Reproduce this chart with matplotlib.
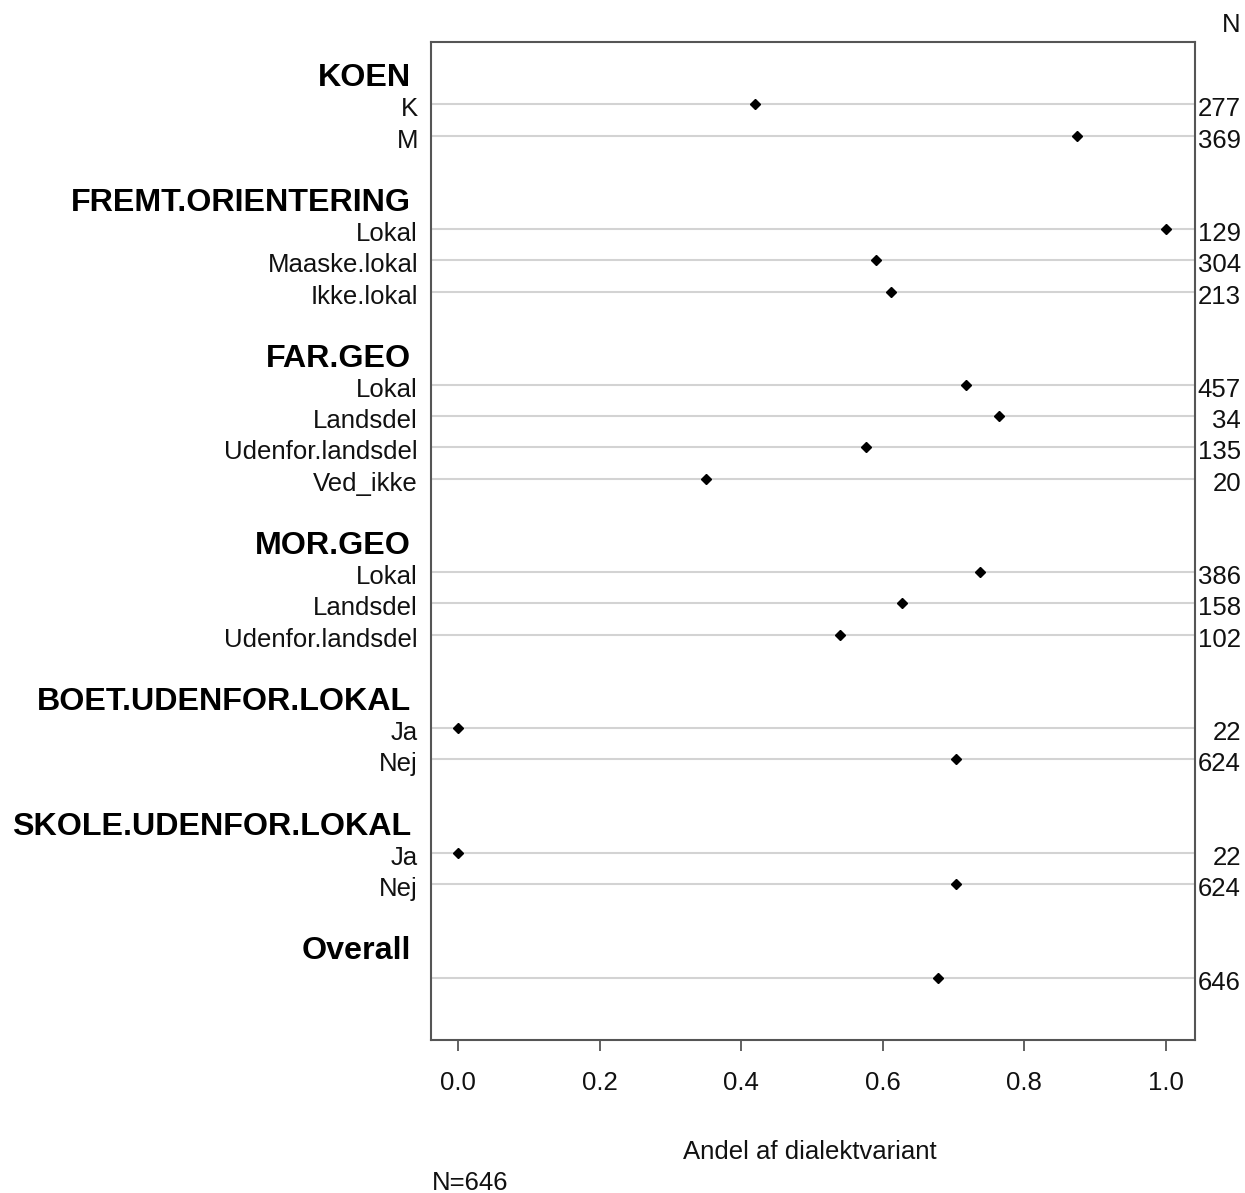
import matplotlib
matplotlib.use("Agg")
import matplotlib.pyplot as plt
import matplotlib.transforms as mtransforms

plt.rcParams['font.family'] = ['Liberation Sans', 'DejaVu Sans']

# grupper og kategorier
groups = ["KOEN", "FREMT.ORIENTERING", "FAR.GEO", "MOR.GEO",
          "BOET.UDENFOR.LOKAL", "SKOLE.UDENFOR.LOKAL", "Overall"]
levels = [
    ["K", "M"],
    ["Lokal", "Maaske.lokal", "Ikke.lokal"],
    ["Lokal", "Landsdel", "Udenfor.landsdel", "Ved_ikke"],
    ["Lokal", "Landsdel", "Udenfor.landsdel"],
    ["Ja", "Nej"],
    ["Ja", "Nej"],
    [""],
]
andel = [
    [0.419, 0.875],
    [1.0, 0.591, 0.611],
    [0.717, 0.764, 0.577, 0.351],
    [0.738, 0.627, 0.539],
    [0.0, 0.703],
    [0.0, 0.703],
    [0.678],
]
n_counts = [
    [277, 369],
    [129, 304, 213],
    [457, 34, 135, 20],
    [386, 158, 102],
    [22, 624],
    [22, 624],
    [646],
]
xticks = [0.0, 0.2, 0.4, 0.6, 0.8, 1.0]

W, H = 1245, 1193
fig = plt.figure(figsize=(W / 100, H / 100), dpi=100)
ax = fig.add_axes([431 / W, 1 - 1040 / H, (1195 - 431) / W, (1040 - 42) / H])

lbl_tr = mtransforms.blended_transform_factory(fig.transFigure, ax.transData)
txtc = '#111111'

row = 0
for g, labs, vals, ns in zip(groups, levels, andel, n_counts):
    ax.annotate(g, xy=(411 / W, row), xycoords=lbl_tr, xytext=(0, -13),
                textcoords='offset pixels', ha='right', va='baseline',
                fontsize=23.2, fontweight='bold', color='black')
    row += 1
    for lab, v, n in zip(labs, vals, ns):
        ax.axhline(row, color='#d3d3d3', lw=1.5, zorder=1)
        ax.plot(v, row, marker='D', color='black', markersize=5.5, zorder=3)
        if lab:
            ax.annotate(lab, xy=(418 / W, row), xycoords=lbl_tr, xytext=(0, -12),
                        textcoords='offset pixels', ha='right', va='baseline',
                        fontsize=18.5, color=txtc)
        ax.annotate(str(n), xy=(1241 / W, row), xycoords=lbl_tr, xytext=(0, -12),
                    textcoords='offset pixels', ha='right', va='baseline',
                    fontsize=18.5, color=txtc, annotation_clip=False)
        row += 1
    row += 1

ax.set_ylim(31, -1)
ax.set_xlim(-0.038, 1.041)
ax.set_yticks([])
ax.set_xticks(xticks)
ax.set_xticklabels([f"{t:.1f}" for t in xticks], fontsize=18.5, color=txtc)
ax.tick_params(axis='x', length=8, width=1.3, color='#555555', pad=14)
for s in ax.spines.values():
    s.set_color('#555555')
    s.set_linewidth(1.5)

fig.text(1241 / W, 1 - 25 / H, "N", ha='right', va='center', fontsize=18.5, color=txtc)
fig.text(810 / W, 1 - 1152 / H, "Andel af dialektvariant", ha='center', va='center',
         fontsize=18.5, color=txtc)
fig.text(432 / W, 1 - 1183 / H, "N=646", ha='left', va='center', fontsize=18.5, color=txtc)

fig.savefig("out.png", dpi=100)
